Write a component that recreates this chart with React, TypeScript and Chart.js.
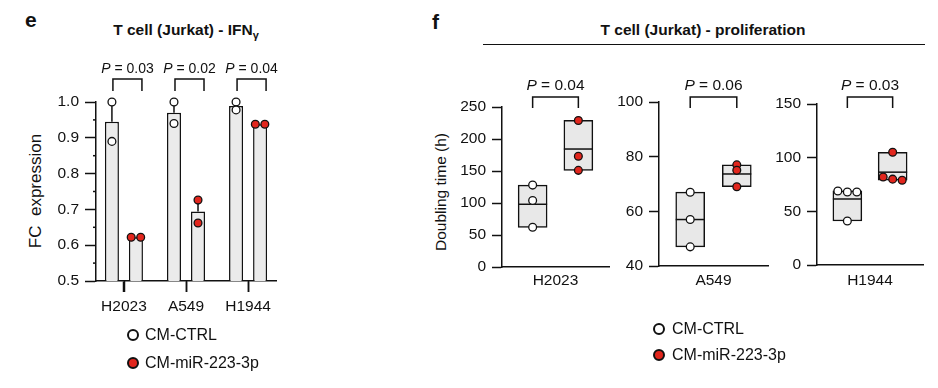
import React, { useEffect, useRef } from 'react';
import { Chart, registerables } from 'chart.js';

Chart.register(...registerables);

const FONT = '"Liberation Sans", Arial, Helvetica, sans-serif';
const RED = '#e2261d';
const BAR_GRAY = '#ebebeb';
const BOX_GRAY = '#e8e8e8';
const INK = '#111111';

// ---------- Panel e data (FC expression) ----------
const categoriesE = ['H2023', 'A549', 'H1944'];
const ctrlPointsE = [
  [1.0, 0.89],
  [1.0, 0.94],
  [1.0, 0.978],
];
const mirPointsE = [
  [0.622, 0.622],
  [0.726, 0.662],
  [0.938, 0.938],
];
const pValuesE = ['0.03', '0.02', '0.04'];
const yMinE = 0.5;
const yMaxE = 1.0;
const yStepE = 0.1;

// ---------- Panel f data (doubling time, h) ----------
const categoriesF = ['H2023', 'A549', 'H1944'];
const ctrlPointsF = [
  [128, 104, 62],
  [67, 57, 47],
  [68, 69, 68, 41],
];
const mirPointsF = [
  [229, 173, 151],
  [77, 75, 69],
  [105, 79, 82, 80],
];
const pValuesF = ['0.04', '0.06', '0.03'];
const yMinF = [0, 40, 0];
const yMaxF = [250, 100, 150];
const yStepF = [50, 20, 50];

const legendLabels = ['CM-CTRL', 'CM-miR-223-3p'];

// ---------- helpers ----------
const mean = (a: number[]) => a.reduce((s, v) => s + v, 0) / a.length;
const sem = (a: number[]) => {
  const m = mean(a);
  const sd = Math.sqrt(a.reduce((s, v) => s + (v - m) * (v - m), 0) / (a.length - 1));
  return sd / Math.sqrt(a.length);
};

function swarmOffsets(pix: number[], spacing: number, thresh = 4): number[] {
  const idx = pix.map((_, i) => i).sort((a, b) => pix[a] - pix[b]);
  const off = new Array(pix.length).fill(0);
  let cluster: number[] = [idx[0]];
  const flush = () => {
    const n = cluster.length;
    cluster.forEach((k, j) => (off[k] = (j - (n - 1) / 2) * spacing));
  };
  for (let i = 1; i < idx.length; i++) {
    if (pix[idx[i]] - pix[idx[i - 1]] < thresh) cluster.push(idx[i]);
    else {
      flush();
      cluster = [idx[i]];
    }
  }
  flush();
  return off;
}

function drawPoint(ctx: CanvasRenderingContext2D, x: number, y: number, fill: string) {
  ctx.beginPath();
  ctx.arc(x, y, 3.9, 0, Math.PI * 2);
  ctx.fillStyle = fill;
  ctx.fill();
  ctx.lineWidth = 1.3;
  ctx.strokeStyle = INK;
  ctx.stroke();
}

function drawBracket(
  ctx: CanvasRenderingContext2D,
  x1: number,
  x2: number,
  yTop: number,
  yLeg: number,
  baseline: number,
  p: string,
  size: number
) {
  ctx.beginPath();
  ctx.moveTo(x1, yLeg);
  ctx.lineTo(x1, yTop);
  ctx.lineTo(x2, yTop);
  ctx.lineTo(x2, yLeg);
  ctx.lineWidth = 1.5;
  ctx.strokeStyle = INK;
  ctx.stroke();
  const italic = `italic ${size}px ${FONT}`;
  const normal = `${size}px ${FONT}`;
  const rest = ' = ' + p;
  ctx.font = italic;
  const wP = ctx.measureText('P').width;
  ctx.font = normal;
  const wR = ctx.measureText(rest).width;
  const start = (x1 + x2) / 2 - (wP + wR) / 2;
  ctx.fillStyle = INK;
  ctx.textBaseline = 'alphabetic';
  ctx.textAlign = 'left';
  ctx.font = italic;
  ctx.fillText('P', start, baseline);
  ctx.font = normal;
  ctx.fillText(rest, start + wP, baseline);
}

const tickFont = { size: 15.5, family: FONT };

// ---------- Panel e ----------
function PanelE() {
  const ref = useRef<HTMLCanvasElement>(null);
  useEffect(() => {
    if (!ref.current) return;
    const overlay = {
      id: 'overlayE',
      afterDatasetsDraw(chart: any) {
        const ctx: CanvasRenderingContext2D = chart.ctx;
        const ys = chart.scales.y;
        const xs = chart.scales.x;
        const area = chart.chartArea;
        const metaC = chart.getDatasetMeta(0);
        const metaM = chart.getDatasetMeta(1);
        ctx.save();
        ctx.strokeStyle = INK;
        ctx.lineWidth = 1.5;
        // minor y ticks
        for (let v = yMinE + yStepE / 2; v < yMaxE; v += yStepE) {
          const py = ys.getPixelForValue(v);
          ctx.beginPath();
          ctx.moveTo(area.left - 3, py);
          ctx.lineTo(area.left, py);
          ctx.stroke();
        }
        // category ticks on the x axis
        categoriesE.forEach((_, i) => {
          const px = Math.round(xs.getPixelForValue(i)) + 0.5;
          ctx.beginPath();
          ctx.moveTo(px, area.bottom);
          ctx.lineTo(px, area.bottom + 11);
          ctx.stroke();
        });
        const groups: [number[][], any, string][] = [
          [ctrlPointsE, metaC, '#ffffff'],
          [mirPointsE, metaM, RED],
        ];
        groups.forEach(([pts, meta, fill]) => {
          pts.forEach((vals, i) => {
            const bx = meta.data[i].x;
            const m = mean(vals);
            const s = sem(vals);
            if (s > 0) {
              const y0 = ys.getPixelForValue(m);
              const y1 = ys.getPixelForValue(m + s);
              ctx.beginPath();
              ctx.moveTo(bx, y0);
              ctx.lineTo(bx, y1);
              ctx.moveTo(bx - 3, y1);
              ctx.lineTo(bx + 3, y1);
              ctx.lineWidth = 1.5;
              ctx.strokeStyle = INK;
              ctx.stroke();
            }
            const pix = vals.map((v) => ys.getPixelForValue(v));
            const off = swarmOffsets(pix, 9.5);
            pix.forEach((py, k) => drawPoint(ctx, bx + off[k], py, fill));
          });
        });
        pValuesE.forEach((p, i) => {
          const x1 = metaC.data[i].x + 1;
          const x2 = metaM.data[i].x + 6;
          drawBracket(ctx, x1, x2, 79, 91, 72.7, p, 14);
        });
        ctx.restore();
      },
    };
    const chart = new Chart(ref.current, {
      type: 'bar',
      data: {
        datasets: [
          {
            label: legendLabels[0],
            data: ctrlPointsE.map((v, i) => ({ x: i, y: mean(v) })),
            backgroundColor: BAR_GRAY,
            borderColor: INK,
            borderWidth: 1.5,
            borderSkipped: 'start',
            categoryPercentage: 0.774,
            barPercentage: 0.583,
          },
          {
            label: legendLabels[1],
            data: mirPointsE.map((v, i) => ({ x: i, y: mean(v) })),
            backgroundColor: BAR_GRAY,
            borderColor: INK,
            borderWidth: 1.5,
            borderSkipped: 'start',
            categoryPercentage: 0.774,
            barPercentage: 0.583,
          },
        ],
      } as any,
      options: {
        animation: false,
        responsive: false,
        maintainAspectRatio: false,
        layout: { padding: { left: 0, top: 102, right: 24, bottom: 77 } },
        plugins: { legend: { display: false }, tooltip: { enabled: false }, title: { display: false } },
        scales: {
          x: {
            type: 'linear',
            min: -0.45,
            max: 2.45,
            bounds: 'data',
            offset: false,
            afterBuildTicks: (s: any) => {
              s.ticks = categoriesE.map((_, i) => ({ value: i }));
            },
            afterFit: (s: any) => {
              s.height = 30;
            },
            ticks: {
              callback: (v: any) => categoriesE[Math.round(Number(v))] ?? '',
              font: tickFont,
              color: INK,
              padding: 5,
              maxRotation: 0,
              autoSkip: false,
            },
            grid: {
              offset: false,
              drawOnChartArea: false,
              drawTicks: true,
              tickLength: 11,
              tickWidth: 1.5,
              tickColor: INK,
              color: INK,
            },
            border: { display: true, color: INK, width: 1.5 },
          },
          y: {
            type: 'linear',
            min: yMinE,
            max: yMaxE,
            afterFit: (s: any) => {
              s.width = 96;
            },
            ticks: {
              stepSize: yStepE,
              callback: (v: any) => Number(v).toFixed(1),
              font: tickFont,
              color: INK,
              padding: 6,
            },
            grid: { drawOnChartArea: false, drawTicks: true, tickLength: 11, tickWidth: 1.5, tickColor: INK, color: INK },
            border: { display: true, color: INK, width: 1.5 },
          },
        },
      } as any,
      plugins: [overlay],
    });
    return () => chart.destroy();
  }, []);
  return <canvas ref={ref} width={300} height={388} style={{ position: 'absolute', left: 0, top: 0 }} />;
}

// ---------- Panel f subplots ----------
const layoutsF = [
  { canvasLeft: 420, canvasWidth: 200, left: 502, right: 609, top: 107, bottom: 267 },
  { canvasLeft: 600, canvasWidth: 180, left: 659, right: 768, top: 102, bottom: 266 },
  { canvasLeft: 770, canvasWidth: 168, left: 817, right: 923, top: 104, bottom: 265 },
];

function SubplotF({ idx }: { idx: number }) {
  const ref = useRef<HTMLCanvasElement>(null);
  const L = layoutsF[idx];
  useEffect(() => {
    if (!ref.current) return;
    const ctrl = ctrlPointsF[idx];
    const mir = mirPointsF[idx];
    const titleSize = 15.5;
    const lineH = titleSize * 1.2;
    const xAxisH = 281 - L.bottom + lineH / 2;
    const overlay = {
      id: 'overlayF' + idx,
      afterDatasetsDraw(chart: any) {
        const ctx: CanvasRenderingContext2D = chart.ctx;
        const ys = chart.scales.y;
        const meta = chart.getDatasetMeta(0);
        ctx.save();
        [ctrl, mir].forEach((vals, i) => {
          const el = meta.data[i];
          const bx = el.x;
          const hw = el.width / 2;
          const my = ys.getPixelForValue(mean(vals));
          ctx.beginPath();
          ctx.moveTo(bx - hw, my);
          ctx.lineTo(bx + hw, my);
          ctx.lineWidth = 1.5;
          ctx.strokeStyle = INK;
          ctx.stroke();
          const pix = vals.map((v) => ys.getPixelForValue(v));
          const off = swarmOffsets(pix, 9.5);
          pix.forEach((py, k) => drawPoint(ctx, bx + off[k], py, i === 0 ? '#ffffff' : RED));
        });
        drawBracket(ctx, meta.data[0].x, meta.data[1].x, 97, 108, 89.5, pValuesF[idx], 15.5);
        ctx.restore();
      },
    };
    const chart = new Chart(ref.current, {
      type: 'bar',
      data: {
        datasets: [
          {
            label: categoriesF[idx],
            data: [
              { x: 0, y: [Math.min(...ctrl), Math.max(...ctrl)] },
              { x: 1, y: [Math.min(...mir), Math.max(...mir)] },
            ],
            backgroundColor: BOX_GRAY,
            borderColor: INK,
            borderWidth: 1.5,
            borderSkipped: false,
            barThickness: 29,
          },
        ],
      } as any,
      options: {
        animation: false,
        responsive: false,
        maintainAspectRatio: false,
        layout: {
          padding: {
            left: 0,
            top: L.top,
            right: L.canvasLeft + L.canvasWidth - L.right,
            bottom: 388 - L.bottom - xAxisH,
          },
        },
        plugins: { legend: { display: false }, tooltip: { enabled: false }, title: { display: false } },
        scales: {
          x: {
            type: 'linear',
            min: -0.67,
            max: 1.67,
            bounds: 'data',
            offset: false,
            afterFit: (s: any) => {
              s.height = xAxisH;
            },
            ticks: { display: false },
            grid: { display: false, offset: false },
            border: { display: true, color: INK, width: 1.5 },
            title: {
              display: true,
              text: categoriesF[idx],
              font: { size: titleSize, family: FONT },
              color: INK,
              padding: 0,
            },
          },
          y: {
            type: 'linear',
            min: yMinF[idx],
            max: yMaxF[idx],
            afterFit: (s: any) => {
              s.width = L.left - L.canvasLeft;
            },
            ticks: {
              stepSize: yStepF[idx],
              font: tickFont,
              color: INK,
              padding: 6,
            },
            grid: { drawOnChartArea: false, drawTicks: true, tickLength: 10, tickWidth: 1.5, tickColor: INK, color: INK },
            border: { display: true, color: INK, width: 1.5 },
          },
        },
      } as any,
      plugins: [overlay],
    });
    return () => chart.destroy();
  }, [idx]);
  return (
    <canvas
      ref={ref}
      width={L.canvasWidth}
      height={388}
      style={{ position: 'absolute', left: L.canvasLeft, top: 0 }}
    />
  );
}

// ---------- HTML bits ----------
function LegendItem({ x, y, fill, text, textLeft }: { x: number; y: number; fill: string; text: string; textLeft: number }) {
  return (
    <>
      <div
        style={{
          position: 'absolute',
          left: x - 6,
          top: y - 6,
          width: 12,
          height: 12,
          boxSizing: 'border-box',
          border: `2px solid ${INK}`,
          borderRadius: '50%',
          background: fill,
        }}
      />
      <div
        style={{
          position: 'absolute',
          left: textLeft,
          top: y - 10,
          height: 20,
          lineHeight: '20px',
          fontSize: 16,
          whiteSpace: 'nowrap',
        }}
      >
        {text}
      </div>
    </>
  );
}

export default function App() {
  return (
    <div
      style={{
        position: 'absolute',
        left: 0,
        top: 0,
        width: 938,
        height: 388,
        overflow: 'hidden',
        background: '#ffffff',
        fontFamily: FONT,
        color: INK,
      }}
    >
      {/* panel letters */}
      <div style={{ position: 'absolute', left: 25, top: 8, fontSize: 21, fontWeight: 700, lineHeight: '24px' }}>e</div>
      <div style={{ position: 'absolute', left: 432, top: 10, fontSize: 21, fontWeight: 700, lineHeight: '24px' }}>f</div>

      {/* titles */}
      <div
        style={{
          position: 'absolute',
          left: 186,
          top: 20,
          transform: 'translateX(-50%)',
          fontSize: 15.5,
          fontWeight: 700,
          lineHeight: '20px',
          whiteSpace: 'nowrap',
        }}
      >
        T cell (Jurkat) - IFN
        <span style={{ fontSize: 11, position: 'relative', top: 4 }}>γ</span>
      </div>
      <div
        style={{
          position: 'absolute',
          left: 703,
          top: 20,
          transform: 'translateX(-50%)',
          fontSize: 15.5,
          fontWeight: 700,
          lineHeight: '20px',
          whiteSpace: 'nowrap',
        }}
      >
        T cell (Jurkat) - proliferation
      </div>
      <div style={{ position: 'absolute', left: 483, top: 44, width: 442, height: 0, borderTop: `1.5px solid ${INK}` }} />

      {/* y-axis titles */}
      <div
        style={{
          position: 'absolute',
          left: 35,
          top: 191,
          transform: 'translate(-50%, -50%) rotate(-90deg)',
          fontSize: 17,
          lineHeight: 1,
          whiteSpace: 'pre',
        }}
      >
        {'FC  expression'}
      </div>
      <div
        style={{
          position: 'absolute',
          left: 440.5,
          top: 192,
          transform: 'translate(-50%, -50%) rotate(-90deg)',
          fontSize: 15.5,
          lineHeight: 1,
          whiteSpace: 'nowrap',
        }}
      >
        Doubling time (h)
      </div>

      <PanelE />
      <SubplotF idx={0} />
      <SubplotF idx={1} />
      <SubplotF idx={2} />

      {/* legends */}
      <LegendItem x={133} y={335} fill="#ffffff" text={legendLabels[0]} textLeft={145} />
      <LegendItem x={133} y={363} fill={RED} text={legendLabels[1]} textLeft={145} />
      <LegendItem x={659} y={329} fill="#ffffff" text={legendLabels[0]} textLeft={672} />
      <LegendItem x={659} y={355} fill={RED} text={legendLabels[1]} textLeft={672} />
    </div>
  );
}
